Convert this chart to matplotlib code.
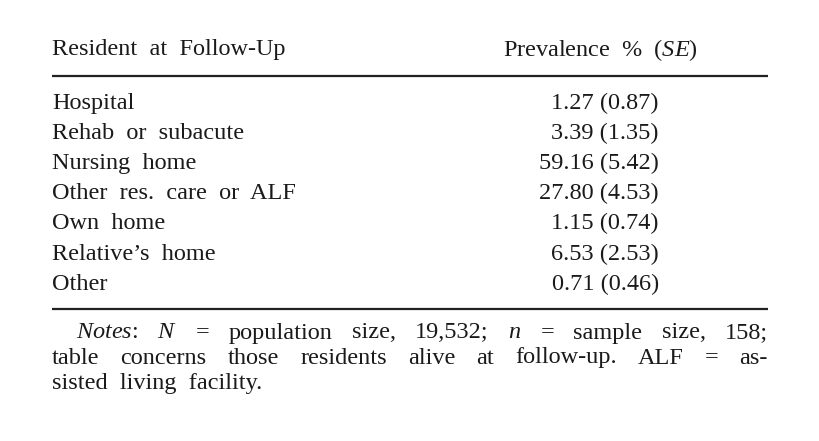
import matplotlib
matplotlib.use("Agg")
import matplotlib.pyplot as plt

plt.rcParams["mathtext.fontset"] = "custom"
plt.rcParams["mathtext.it"] = "Liberation Serif:italic"
plt.rcParams["mathtext.rm"] = "Liberation Serif"

categories = ["Hospital", "Rehab or subacute", "Nursing home", "Other res. care or ALF",
              "Own home", "Relative\u2019s home", "Other"]
prevalence = [1.27, 3.39, 59.16, 27.80, 1.15, 6.53, 0.71]
se = [0.87, 1.35, 5.42, 4.53, 0.74, 2.53, 0.46]

W, H = 820, 441
fig = plt.figure(figsize=(8.2, 4.41), dpi=100)
ax = fig.add_axes([0, 0, 1, 1])
ax.set_xlim(0, W)
ax.set_ylim(H, 0)
ax.axis("off")

fs = 17.5
font = dict(family="Liberation Serif", fontsize=fs, color="#1a1a1a")

def spaced(x, y, s, ha="left"):
    # wider word spacing like the reference
    return ax.text(x, y, s.replace(" ", "  "), va="center", ha=ha, **font)

spaced(52, 50, "Resident at Follow-Up")
ax.text(698, 50, "Prevalence  %  ($\\mathit{SE}$)", va="center", ha="right", **font)
ax.plot([52, 768], [76, 76], color="#222222", lw=1.6, solid_capstyle="butt")

y0, dy = 103, 30.2
for i, (c, p, s) in enumerate(zip(categories, prevalence, se)):
    y = y0 + i * dy
    spaced(52, y, c)
    ax.text(659, y, f"{p:.2f} ({s:.2f})", va="center", ha="right", **font)

ax.plot([52, 768], [309, 309], color="#222222", lw=1.6, solid_capstyle="butt")

fig.canvas.draw()
r = fig.canvas.get_renderer()

def justify(x0, x1, y, words):
    ts = [ax.text(0, y, w, va="center", ha="left", **font) for w in words]
    ws = []
    for t in ts:
        bb = t.get_window_extent(r)
        ws.append(bb.width)
    gap = (x1 - x0 - sum(ws)) / (len(words) - 1)
    x = x0
    for t, w in zip(ts, ws):
        t.set_x(x)
        x += w + gap

justify(76, 768, 333, ["$\\mathit{Notes}$:", "$\\mathit{N}$", "=", "population", "size,",
                       "19,532;", "$\\mathit{n}$", "=", "sample", "size,", "158;"])
justify(52, 768, 358, "table concerns those residents alive at follow-up. ALF = as-".split())
spaced(52, 383, "sisted living facility.")

fig.savefig("out.png", dpi=100, facecolor="white")
